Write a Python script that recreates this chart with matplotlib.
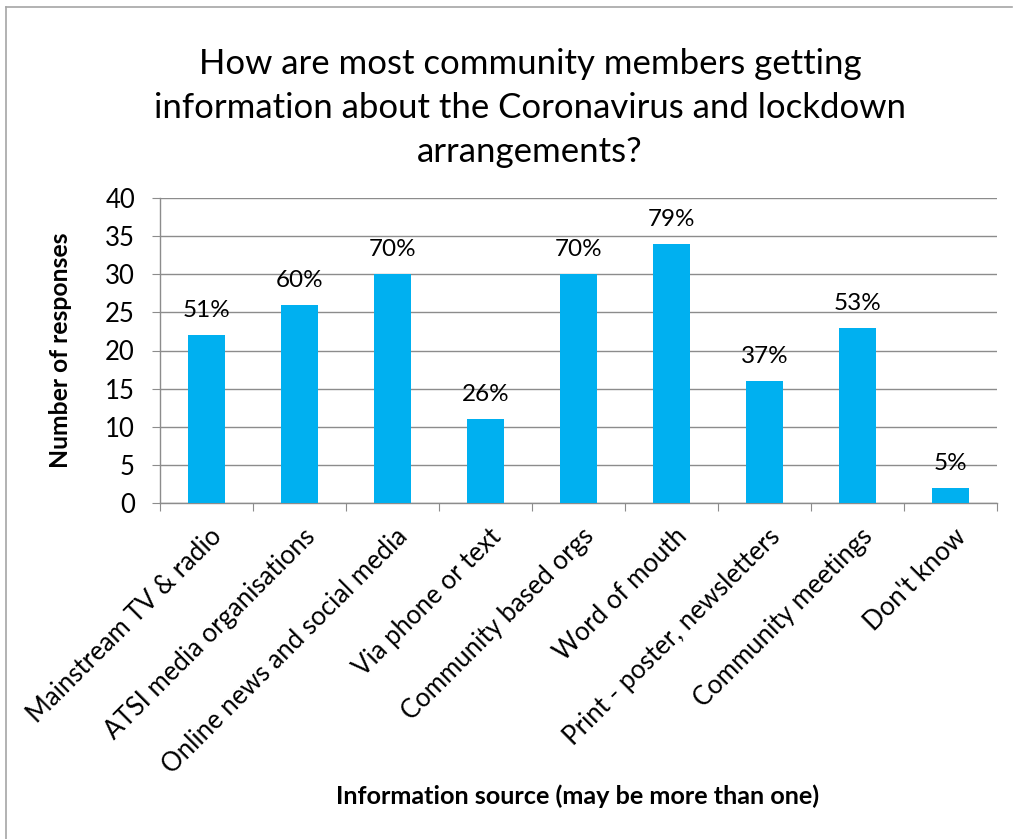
import matplotlib
matplotlib.use("Agg")
import matplotlib.pyplot as plt
from matplotlib.lines import Line2D

categories = [
    "Mainstream TV & radio",
    "ATSI media organisations",
    "Online news and social media",
    "Via phone or text",
    "Community based orgs",
    "Word of mouth",
    "Print - poster, newsletters",
    "Community meetings",
    "Don't know",
]
responses = [22, 26, 30, 11, 30, 34, 16, 23, 2]
percent_labels = ["51%", "60%", "70%", "26%", "70%", "79%", "37%", "53%", "5%"]
y_ticks = [0, 5, 10, 15, 20, 25, 30, 35, 40]

title = ("How are most community members getting\n"
         "information about the Coronavirus and lockdown\n"
         "arrangements?")

plt.rcParams["font.family"] = ["Lato", "DejaVu Sans"]

W, H = 1014, 839
fig = plt.figure(figsize=(W / 100, H / 100), dpi=100)

# chart frame
fig.add_artist(Line2D([6 / W, 6 / W], [0, 1 - 7 / H], color="#a6a6a6", lw=1.2,
                      transform=fig.transFigure))
fig.add_artist(Line2D([6 / W, 1012 / W], [1 - 7 / H, 1 - 7 / H], color="#a6a6a6", lw=1.2,
                      transform=fig.transFigure))

ax = fig.add_axes([160 / W, 1 - 503 / H, (997 - 160) / W, (503 - 198) / H])

x = list(range(len(categories)))
bars = ax.bar(x, responses, width=0.4, color="#00B0F0", zorder=3)

ax.set_xlim(-0.5, len(categories) - 0.5)
ax.set_ylim(0, 40)
ax.set_yticks(y_ticks)
ax.set_yticklabels([str(v) for v in y_ticks], fontsize=18.5)
ax.yaxis.grid(True, color="#8c8c8c", lw=1.0, zorder=0)
ax.set_axisbelow(True)

for s in ["top", "right"]:
    ax.spines[s].set_visible(False)
ax.spines["left"].set_color("#8c8c8c")
ax.spines["bottom"].set_color("#8c8c8c")
ax.spines["left"].set_linewidth(1.0)
ax.spines["bottom"].set_linewidth(1.0)

ax.tick_params(axis="y", length=6, color="#8c8c8c", pad=12)
# category boundary ticks on the x axis
ax.set_xticks([i - 0.5 for i in range(len(categories) + 1)])
ax.set_xticklabels([])
ax.tick_params(axis="x", length=6, color="#8c8c8c")

for i, lab in enumerate(categories):
    ax.annotate(lab, xy=(i, 0), xycoords=("data", "axes fraction"),
                xytext=(2, -15), textcoords="offset points",
                rotation=45, rotation_mode="anchor", ha="right", va="top",
                fontsize=18.5)

for rect, lab in zip(bars, percent_labels):
    ax.annotate(lab, xy=(rect.get_x() + rect.get_width() / 2, rect.get_height()),
                xytext=(0, 10), textcoords="offset points",
                ha="center", va="bottom", fontsize=17.5)

fig.text(530 / W, 1 - 108 / H, title, ha="center", va="center",
         fontsize=25, linespacing=1.45)
fig.text(60 / W, 1 - 350 / H, "Number of responses", rotation=90,
         ha="center", va="center", fontsize=17.8, fontweight="bold")
fig.text(578 / W, 1 - 796 / H, "Information source (may be more than one)",
         ha="center", va="center", fontsize=18.2, fontweight="bold")

fig.savefig("out.png", dpi=100, facecolor="white")
